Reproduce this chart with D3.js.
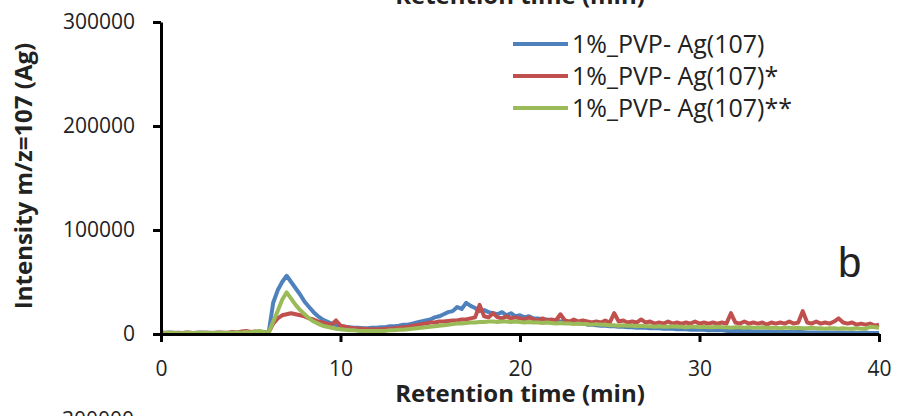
<!DOCTYPE html>
<html>

<head>
  <script src="https://cdn.jsdelivr.net/npm/d3@7"></script>
  <style>
    body {
      margin: 0;
      background: white;
    }

    text {
      font-family: "Open Sans", sans-serif;
      fill: #222;
    }
  </style>
</head>

<body>
  <script>
    // sampling grid, minutes (every 0.25 min from 0 to 40)
    const times = d3.range(0, 40.001, 0.25)

    // intensities in thousands of counts, one value per time
    const blueK = [
      1.5, 1, 1.5, 1, 1.2, 1, 1.3, 1, 1.1, 1.4, 1, 1.2, 1, 1.3, 1, 1.1, 1.4, 1, 1.2, 1.5, 1.1, 1.3, 1.6, 1.2, 1.4,
      30, 42, 50, 56, 50, 44, 38, 31, 26, 21, 17, 14, 12, 10, 8.5, 7.5,
      7, 6.5, 6, 6, 5.5, 5.5, 6, 6, 6.5, 6.5, 7.5, 7.5, 8, 9, 9, 10, 11, 12, 13, 14,
      16, 17, 19, 21, 22, 26, 24, 30, 27, 25, 22, 23, 21, 20, 19, 21, 18, 20, 17, 18,
      16, 17, 15, 15, 14, 14, 13, 13, 12, 12, 11, 11, 10, 10, 9, 9, 8.5, 8, 8, 7.5,
      7.5, 7, 7, 6.5, 6.5, 6, 6, 6, 5.5, 5.5, 5.5, 5, 5, 5, 4.5, 4.5, 4.5, 4, 4, 4,
      4, 3.5, 3.5, 3.5, 3.5, 3, 3, 3, 3, 3, 3, 2.5, 2.5, 2.5, 2.5, 2.5, 2, 2, 2, 2,
      2, 2, 2, 1.5, 1.5, 1.5, 1.5, 1.5, 1.5, 1.5, 1.5, 1.5, 1, 1.5, 1, 1, 1.5, 1, 1, 1
    ]
    const redK = [
      1, 1.2, 1, 1.3, 1, 1.1, 1.5, 1, 1.2, 1, 1.4, 1, 1.2, 1.5, 1.1, 1.3, 2, 1.5, 2.5, 3, 2, 2.5, 1.5, 2, 1.5,
      10, 15, 18, 19, 20, 19, 18, 17, 15, 14, 12, 11, 10, 9, 13, 8,
      7, 6, 5.5, 5, 5, 4.5, 4.5, 4.5, 4.5, 5, 5, 5.5, 6, 6.5, 7, 8, 8.5, 9.5, 10, 11,
      11, 12, 12, 12.5, 13, 13, 14, 14, 15, 16, 28, 17, 16, 20, 16, 15, 17, 15, 16, 15,
      14, 16, 14, 13, 15, 13, 14, 13, 19, 13, 12, 14, 12, 13, 12, 11, 12, 11, 13, 11,
      20, 12, 13, 11, 12, 11, 14, 11, 12, 10, 11, 10, 12, 10, 11, 10, 11, 10, 12, 10,
      11, 10, 11, 10, 11, 10, 20, 11, 10, 12, 10, 11, 10, 11, 9, 11, 10, 11, 10, 12,
      10, 11, 22, 11, 10, 12, 10, 11, 10, 12, 15, 11, 10, 11, 9, 10, 9, 10, 8, 9
    ]
    const greenK = [
      0.8, 1, 1.2, 1, 0.8, 1, 1.2, 1, 1, 1.3, 1, 0.9, 1.1, 1, 1.2, 1, 1.3, 1.5, 1.2, 2, 1.5, 2.5, 3, 2, 1.5,
      12, 22, 33, 40, 34, 28, 23, 19, 15, 12, 10, 8, 7, 6, 5, 4.5,
      4, 3.5, 3.5, 3, 3, 3, 3, 3, 3, 3, 3.5, 3.5, 4, 4, 4.5, 5, 5.5, 6, 6.5, 7,
      7.5, 8, 8.5, 9, 9.5, 10, 10, 10.5, 11, 11, 11.5, 11.5, 12, 12, 11.5, 12, 12, 11.5, 12, 11.5,
      11, 11.5, 11, 11, 10.5, 11, 10.5, 10, 10.5, 10, 10, 9.5, 10, 9.5, 9.5, 9, 9.5, 9, 9, 8.5,
      8.5, 8, 8.5, 8, 8, 7.5, 8, 7.5, 7.5, 7, 7.5, 7, 7, 7.5, 7, 7, 6.5, 7, 7, 6.5,
      7, 6.5, 6.5, 7, 6.5, 6.5, 6, 6.5, 6.5, 6, 6.5, 6, 6, 6.5, 6, 6, 6, 5.5, 6, 6,
      5.5, 6, 5.5, 5.5, 6, 5.5, 5.5, 5, 5.5, 5.5, 5, 5.5, 5, 5, 5.5, 5, 5, 7, 6.5, 6
    ]

    const seriesNames = ['1%_PVP- Ag(107)', '1%_PVP- Ag(107)*', '1%_PVP- Ag(107)**']
    const seriesColors = ['#4F81BD', '#C0504D', '#9BBB59']
    const xTicks = [0, 10, 20, 30, 40]
    const yTicks = [0, 100000, 200000, 300000]

    const W = 898, H = 416
    const svg = d3.select('body').append('svg')
      .attr('width', W)
      .attr('height', H)

    const x = d3.scaleLinear().domain([0, 40]).range([161, 879])
    const y = d3.scaleLinear().domain([0, 300000]).range([334, 22])

    // traces
    const line = d3.line()
      .x((d, i) => x(times[i]))
      .y(d => y(d * 1000))

    ;[blueK, redK, greenK].forEach((vals, k) => {
      svg.append('path')
        .attr('d', line(vals))
        .attr('fill', 'none')
        .attr('stroke', seriesColors[k])
        .attr('stroke-width', 4)
        .attr('stroke-linejoin', 'round')
    })

    // axes
    const xAxis = svg.append('g')
      .attr('transform', `translate(0,${y(0)})`)
      .call(d3.axisBottom(x).tickValues(xTicks).tickSize(8).tickSizeOuter(0).tickPadding(19))
    const yAxis = svg.append('g')
      .attr('transform', `translate(${x(0)},0)`)
      .call(d3.axisLeft(y).tickValues(yTicks).tickSize(8).tickSizeOuter(0).tickPadding(18).tickFormat(d3.format('d')))

    ;[xAxis, yAxis].forEach(g => {
      g.selectAll('path, line').attr('stroke', 'black').attr('stroke-width', 3)
      g.selectAll('text')
        .style('font-family', '"Open Sans", sans-serif')
        .style('font-size', '21px')
        .attr('fill', '#222')
    })

    // axis titles
    svg.append('text')
      .attr('x', 520)
      .attr('y', 402)
      .attr('text-anchor', 'middle')
      .style('font-size', '24px')
      .style('font-weight', 'bold')
      .text('Retention time (min)')

    svg.append('text')
      .attr('transform', 'translate(32,176) rotate(-90)')
      .attr('text-anchor', 'middle')
      .style('font-size', '24px')
      .style('font-weight', 'bold')
      .text('Intensity m/z=107 (Ag)')

    // pieces of the neighbouring panels, cut by the frame
    svg.append('text')
      .attr('x', 520)
      .attr('y', 4)
      .attr('text-anchor', 'middle')
      .style('font-size', '24px')
      .style('font-weight', 'bold')
      .text('Retention time (min)')

    svg.append('text')
      .attr('x', 134)
      .attr('y', 427)
      .attr('text-anchor', 'end')
      .style('font-size', '21px')
      .text('300000')

    // panel letter
    svg.append('text')
      .attr('x', 838)
      .attr('y', 277)
      .style('font-family', '"Liberation Sans", sans-serif')
      .style('font-size', '42px')
      .attr('fill', 'black')
      .text('b')

    // legend
    const legend = svg.append('g')
    seriesNames.forEach((name, i) => {
      const ly = 44 + i * 32
      legend.append('line')
        .attr('x1', 513).attr('x2', 568)
        .attr('y1', ly).attr('y2', ly)
        .attr('stroke', seriesColors[i])
        .attr('stroke-width', 4)
      legend.append('text')
        .attr('x', 572)
        .attr('y', ly + 9)
        .style('font-size', '25px')
        .text(name)
    })
  </script>
</body>

</html>
